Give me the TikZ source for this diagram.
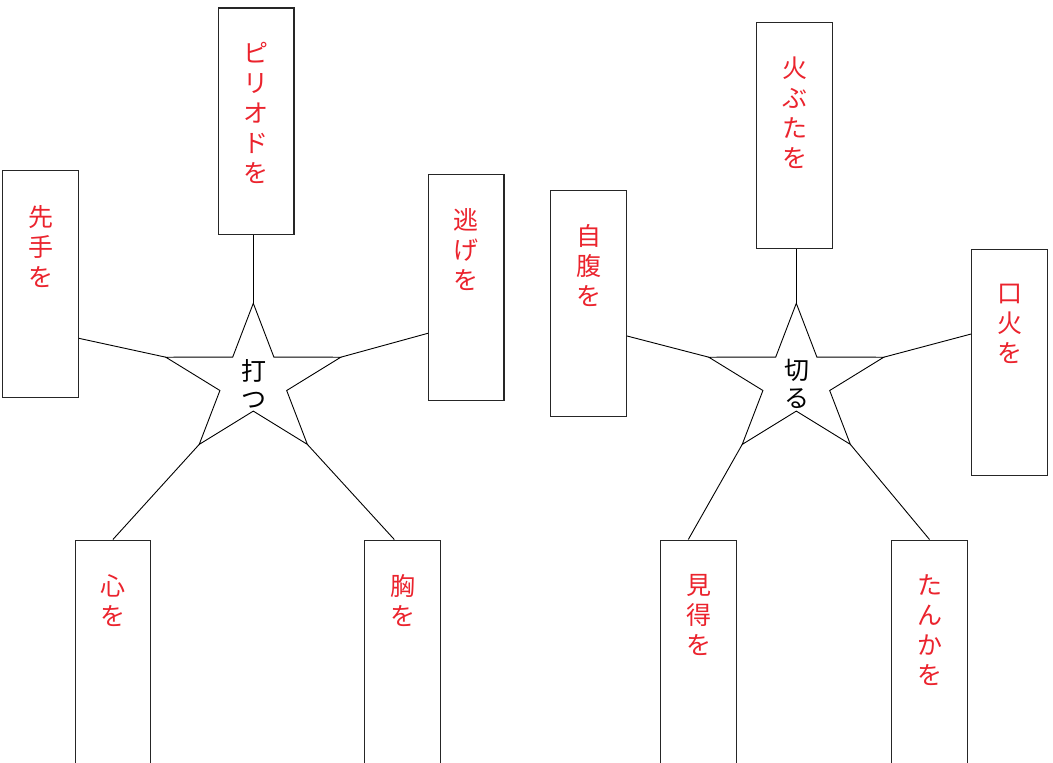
\documentclass[tikz,border=0pt]{standalone}
\usepackage{fontspec}
\newfontfamily\jp{Noto Sans CJK JP}
\definecolor{wred}{RGB}{235,35,45}
\usetikzlibrary{calc}
\begin{document}
\begin{tikzpicture}[x=1pt,y=-1pt,
  wordbox/.style={draw=black!85, line width=1.1pt, rectangle, inner sep=0pt,
    minimum width=75.6pt, minimum height=226.5pt},
  wordtext/.style={anchor=north, inner sep=0pt, align=center, text=wred,
    font={\jp\fontsize{25pt}{30pt}\selectfont}},
  centertext/.style={inner sep=0pt, align=center, text=black,
    font={\jp\fontsize{25pt}{28pt}\selectfont}},
  link/.style={draw=black, line width=0.9pt},
  toplink/.style={draw=black, line width=1.6pt},
  starline/.style={draw=black, line width=0.9pt, line join=miter}]
\fill[white] (0,0) rectangle (1053,763);
\path[use as bounding box, clip] (0,0) rectangle (1053,763);

% stars
\foreach \n/\cx in {s1/253.3, s2/796.3} {
  \foreach \k in {0,...,4} {
    \coordinate (\n o\k) at ({\cx+92*cos(90+72*\k)},{381.3-78*sin(90+72*\k)});
    \coordinate (\n i\k) at ({\cx+35.1*cos(126+72*\k)},{381.3-29.8*sin(126+72*\k)});
  }
  \draw[starline] (\n o0) -- (\n i0) -- (\n o1) -- (\n i1) -- (\n o2) -- (\n i2)
     -- (\n o3) -- (\n i3) -- (\n o4) -- (\n i4) -- cycle;
}
\node[centertext] (k1) at (254,384) {打\\つ};
\node[centertext] (k2) at (797,384) {切\\る};

% boxes, star 1
\node[wordbox] (b1) at (40.5,284) {};
\node[wordbox] (b2) at (256.2,121.2) {};
\node[wordbox] (b3) at (466.2,287.3) {};
\node[wordbox] (b4) at (112.9,653.3) {};
\node[wordbox] (b5) at (402.5,653.3) {};
% boxes, star 2
\node[wordbox] (c1) at (588.7,303.3) {};
\node[wordbox] (c2) at (794.5,135.5) {};
\node[wordbox] (c3) at (1009.5,362.3) {};
\node[wordbox] (c4) at (698.7,653.3) {};
\node[wordbox] (c5) at (929.5,653.3) {};

% texts
\foreach \b/\t in {b1/{先\\手\\を}, b2/{ピ\\リ\\オ\\ド\\を}, b3/{逃\\げ\\を},
   b4/{心\\を}, b5/{胸\\を}, c1/{自\\腹\\を}, c2/{火\\ぶ\\た\\を},
   c3/{口\\火\\を}, c4/{見\\得\\を}, c5/{た\\ん\\か\\を}} {
  \node[wordtext] (\b t) at ([yshift=-35pt]\b.north) {\t};
}

% connectors, star 1
\draw[toplink] (s1o0) -- (s1o0 |- b2.south);
\draw[link] (s1o1) -- (b1.east |- 0,338.3);
\draw[link] (s1o4) -- (b3.west |- 0,333.3);
\draw[link] (s1o2) -- (b4.north);
\draw[link] (s1o3) -- ([xshift=-8.2pt]b5.north);
% connectors, star 2
\draw[toplink] (s2o0) -- (s2o0 |- c2.south);
\draw[link] (s2o1) -- (c1.east |- 0,336);
\draw[link] (s2o4) -- (c3.west |- 0,334);
\draw[link] (s2o2) -- ([xshift=-10.4pt]c4.north);
\draw[link] (s2o3) -- (c5.north);
\end{tikzpicture}
\end{document}
